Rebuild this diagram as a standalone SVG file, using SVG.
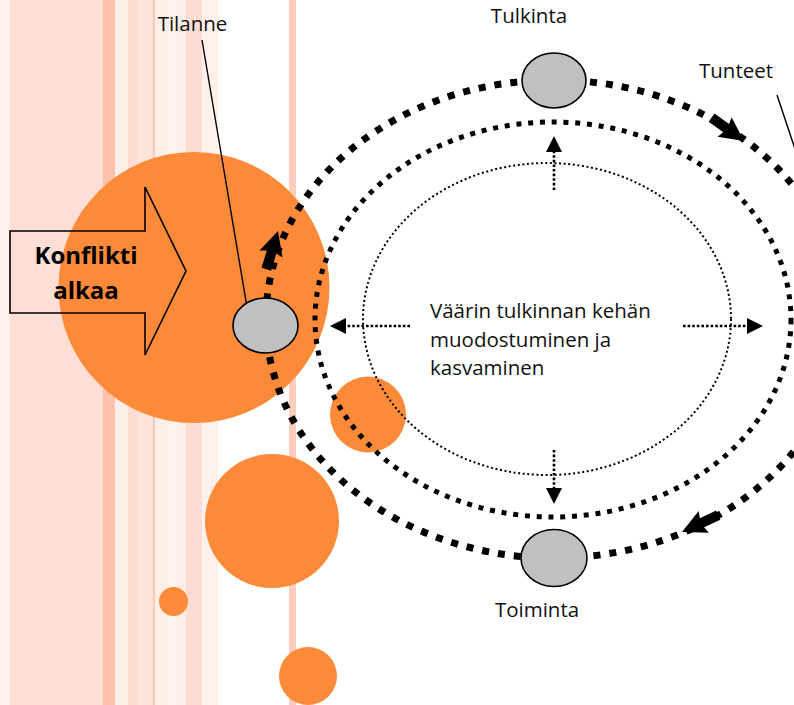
<svg xmlns="http://www.w3.org/2000/svg" xmlns:xlink="http://www.w3.org/1999/xlink" width="794" height="705" viewBox="0 0 794 705">
<style>
.lbl{font-family:"Open Sans","Liberation Sans",sans-serif;font-size:20.5px;fill:#111;}
.big{font-family:"Open Sans","Liberation Sans",sans-serif;font-size:24px;font-weight:bold;fill:#000;}
.orb{fill:#FD8A38;}
.node{fill:#C0C0C0;stroke:#000;stroke-width:1.6;}
.ring1{fill:none;stroke:#000;stroke-width:7;stroke-dasharray:7 9;}
.ring2{fill:none;stroke:#000;stroke-width:5;stroke-dasharray:5 6.8;}
.ring3{fill:none;stroke:#000;stroke-width:2;stroke-dasharray:2 2.6;}
.darr{fill:none;stroke:#000;stroke-width:2.6;stroke-dasharray:2.6 2;marker-end:url(#tri);}
.lead{fill:none;stroke:#000;stroke-width:1.4;}
</style>
<defs>
<marker id="tri" viewBox="0 0 16 16" refX="0" refY="8" markerWidth="16" markerHeight="16" markerUnits="userSpaceOnUse" orient="auto">
<path d="M0,0 L16,8 L0,16 Z" fill="#000"/>
</marker>
<path id="bigArrow" d="M0,0 L-24,-12 L-22,-5 L-40,-5 L-40,5 L-22,5 L-24,12 Z" fill="#000"/>
</defs>
<rect width="794" height="705" fill="#fff"/>
<g id="stripes">
<rect x="0" y="0" width="10" height="705" fill="#FEF0EB"/>
<rect x="10" y="0" width="93" height="705" fill="#FDDFD5"/>
<rect x="103" y="0" width="12" height="705" fill="#FEC0AB"/>
<rect x="115" y="0" width="13" height="705" fill="#FEEEE8"/>
<rect x="128" y="0" width="10" height="705" fill="#FDDDD2"/>
<rect x="138" y="0" width="15" height="705" fill="#FEE3DA"/>
<rect x="153" y="0" width="2" height="705" fill="#FDC9B7"/>
<rect x="155" y="0" width="13" height="705" fill="#FEEEE8"/>
<rect x="168" y="0" width="9" height="705" fill="#FEF3EF"/>
<rect x="177" y="0" width="9" height="705" fill="#FEEEE8"/>
<rect x="186" y="0" width="16" height="705" fill="#FDDDD3"/>
<rect x="202" y="0" width="16" height="705" fill="#FEF0EB"/>
<rect x="289" y="0" width="7" height="705" fill="#FECDBD"/>
</g>
<g id="circles">
<circle class="orb" cx="194" cy="287.5" r="135.5"/>
<circle class="orb" cx="272" cy="521" r="67"/>
<circle class="orb" cx="173.5" cy="601.5" r="14.5"/>
<circle class="orb" cx="308" cy="676" r="29"/>
<circle class="orb" cx="368" cy="414.5" r="38"/>
</g>
<g id="konflikti">
<path d="M10,231 L145,231 L145,187 L186,271 L145,355 L145,313 L10,313 Z" fill="none" stroke="#000" stroke-width="1.6"/>
<text class="big" x="86" y="264" text-anchor="middle">Konflikti</text>
<text class="big" x="86" y="299" text-anchor="middle">alkaa</text>
</g>
<g id="connectors">
<ellipse class="ring3" cx="547" cy="319" rx="184" ry="156"/>
<ellipse class="ring2" cx="553" cy="319.5" rx="238" ry="197.5"/>
<ellipse class="ring1" cx="554" cy="319" rx="288" ry="239"/>
<use xlink:href="#bigArrow" transform="translate(744,141) rotate(35.8)"/>
<use xlink:href="#bigArrow" transform="translate(682,532) rotate(155)"/>
<use xlink:href="#bigArrow" transform="translate(278,231) rotate(-73)"/>
<path class="darr" d="M554,190 L554,152"/>
<path class="darr" d="M554,450 L554,488"/>
<path class="darr" d="M410,326 L346,326"/>
<path class="darr" d="M683,326 L747,326"/>
<path class="lead" d="M202,40 L250,325"/>
<path class="lead" d="M777,95 L812,200"/>
</g>
<g id="tilanne">
<ellipse class="node" cx="265.5" cy="325.5" rx="32.5" ry="27.5"/>
<text class="lbl" x="192.5" y="31" text-anchor="middle">Tilanne</text>
</g>
<g id="tulkinta">
<ellipse class="node" cx="554" cy="80.5" rx="32" ry="27.5"/>
<text class="lbl" x="529" y="23" text-anchor="middle">Tulkinta</text>
</g>
<g id="toiminta">
<ellipse class="node" cx="554" cy="558" rx="33" ry="28.5"/>
<text class="lbl" x="537" y="617" text-anchor="middle">Toiminta</text>
</g>
<g id="tunteet">
<text class="lbl" x="736" y="78" text-anchor="middle">Tunteet</text>
</g>
<g id="center-text">
<text class="lbl" x="430" y="318">Väärin tulkinnan kehän</text>
<text class="lbl" x="430" y="347">muodostuminen ja</text>
<text class="lbl" x="430" y="375">kasvaminen</text>
</g>
</svg>
